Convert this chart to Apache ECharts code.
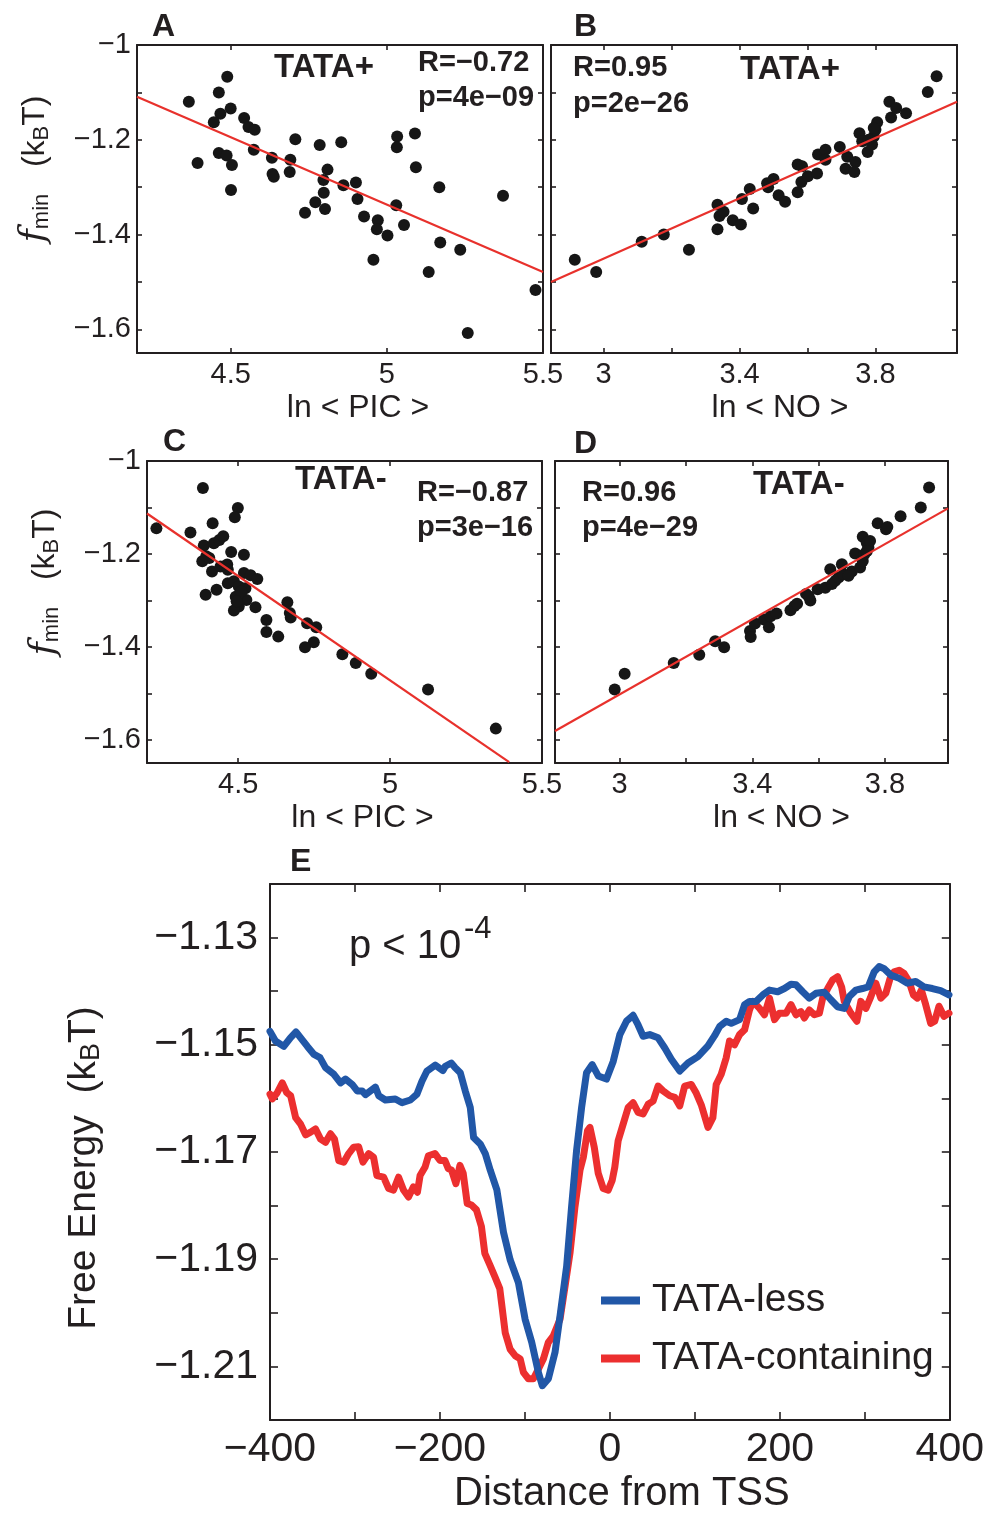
<!DOCTYPE html>
<html>
<head>
<meta charset="utf-8">
<script src="https://cdn.jsdelivr.net/npm/echarts@6/dist/echarts.min.js"></script>
<style>
  html, body { margin: 0; padding: 0; background: #ffffff; }
  #chart { width: 987px; height: 1515px; }
</style>
</head>
<body>
<div id="chart"></div>
<script>
// ---- Panel A: TATA+ promoters, f_min against ln<PIC>
const pointsA = [
  [4.366,-1.120],[4.489,-1.067],[4.462,-1.100],[4.500,-1.134],[4.467,-1.145],[4.446,-1.163],
  [4.394,-1.249],[4.462,-1.228],[4.487,-1.233],[4.504,-1.253],[4.501,-1.306],[4.543,-1.154],
  [4.557,-1.173],[4.577,-1.179],[4.574,-1.221],[4.632,-1.238],[4.634,-1.272],[4.638,-1.278],
  [4.691,-1.242],[4.689,-1.268],[4.707,-1.199],[4.785,-1.211],[4.854,-1.205],[4.810,-1.263],
  [4.797,-1.285],[4.798,-1.312],[4.771,-1.332],[4.738,-1.354],[4.802,-1.346],[4.861,-1.296],
  [4.901,-1.290],[4.906,-1.325],[4.927,-1.362],[4.971,-1.370],[4.968,-1.389],[5.002,-1.402],
  [4.957,-1.453],[5.033,-1.193],[5.032,-1.216],[5.090,-1.187],[5.093,-1.258],[5.030,-1.338],
  [5.055,-1.380],[5.168,-1.300],[5.171,-1.417],[5.235,-1.432],[5.134,-1.479],[5.259,-1.608],
  [5.372,-1.318],[5.476,-1.517]
];
const fitA = [[4.2,-1.109],[5.5,-1.479]];

// ---- Panel B: TATA+ promoters, f_min against ln<NO>
const pointsB = [
  [2.915,-1.453],[2.978,-1.479],[3.112,-1.415],[3.177,-1.400],[3.251,-1.432],[3.335,-1.337],
  [3.341,-1.361],[3.353,-1.352],[3.335,-1.389],[3.380,-1.370],[3.404,-1.379],[3.407,-1.325],
  [3.430,-1.304],[3.440,-1.345],[3.481,-1.292],[3.484,-1.300],[3.500,-1.283],[3.515,-1.317],
  [3.534,-1.331],[3.571,-1.252],[3.584,-1.256],[3.571,-1.311],[3.582,-1.289],[3.601,-1.277],
  [3.628,-1.271],[3.631,-1.231],[3.653,-1.221],[3.653,-1.242],[3.695,-1.215],[3.717,-1.236],
  [3.712,-1.261],[3.741,-1.247],[3.738,-1.268],[3.753,-1.186],[3.761,-1.203],[3.777,-1.226],
  [3.790,-1.210],[3.795,-1.193],[3.800,-1.179],[3.805,-1.163],[3.841,-1.120],[3.846,-1.153],
  [3.861,-1.133],[3.890,-1.144],[3.954,-1.099],[3.980,-1.066],[3.780,-1.200],[3.795,-1.175]
];
const fitB = [[2.845,-1.500],[4.04,-1.120]];

// ---- Panel C: TATA- promoters, f_min against ln<PIC>
const pointsC = [
  [4.231,-1.145],[4.384,-1.058],[4.343,-1.154],[4.416,-1.134],[4.499,-1.101],[4.489,-1.121],
  [4.387,-1.182],[4.420,-1.177],[4.438,-1.170],[4.451,-1.162],[4.382,-1.216],[4.395,-1.205],
  [4.405,-1.209],[4.414,-1.238],[4.442,-1.227],[4.464,-1.223],[4.466,-1.234],[4.477,-1.196],
  [4.519,-1.202],[4.393,-1.288],[4.429,-1.277],[4.466,-1.263],[4.486,-1.259],[4.502,-1.270],
  [4.519,-1.241],[4.541,-1.246],[4.563,-1.254],[4.524,-1.274],[4.492,-1.292],[4.527,-1.299],
  [4.502,-1.313],[4.486,-1.322],[4.557,-1.315],[4.593,-1.342],[4.593,-1.368],[4.632,-1.378],
  [4.662,-1.304],[4.670,-1.327],[4.673,-1.337],[4.727,-1.349],[4.757,-1.358],[4.749,-1.390],
  [4.720,-1.401],[4.843,-1.416],[4.887,-1.435],[4.938,-1.458],[5.125,-1.492],[5.348,-1.576],
  [4.510,-1.281],[4.495,-1.302]
];
const fitC = [[4.2,-1.113],[5.392,-1.648]];

// ---- Panel D: TATA- promoters, f_min against ln<NO>
const pointsD = [
  [2.985,-1.492],[3.015,-1.458],[3.163,-1.435],[3.240,-1.417],[3.288,-1.388],[3.315,-1.401],
  [3.393,-1.366],[3.395,-1.379],[3.408,-1.350],[3.435,-1.341],[3.450,-1.358],[3.455,-1.334],
  [3.473,-1.328],[3.515,-1.321],[3.527,-1.312],[3.535,-1.307],[3.562,-1.286],[3.575,-1.300],
  [3.570,-1.291],[3.597,-1.276],[3.620,-1.273],[3.635,-1.233],[3.640,-1.265],[3.650,-1.258],
  [3.660,-1.251],[3.670,-1.222],[3.675,-1.244],[3.700,-1.238],[3.710,-1.199],[3.725,-1.229],
  [3.733,-1.215],[3.737,-1.201],[3.733,-1.163],[3.745,-1.176],[3.750,-1.186],[3.755,-1.172],
  [3.778,-1.134],[3.803,-1.147],[3.807,-1.142],[3.847,-1.119],[3.908,-1.100],[3.933,-1.057],
  [3.690,-1.247],[3.745,-1.194]
];
const fitD = [[2.805,-1.581],[3.99,-1.102]];

// ---- Panel E: free-energy profiles around the TSS
const tataLess = [
  [-400,-1.1475],[-393.6,-1.1493],[-383.8,-1.1503],[-376,-1.1487],[-369.4,-1.1476],[-363.9,-1.1487],
  [-356,-1.1503],[-348.2,-1.1518],[-341.2,-1.1524],[-334.5,-1.1543],[-324.8,-1.1555],[-317,-1.1571],
  [-311.2,-1.1564],[-303.3,-1.1574],[-297.4,-1.1586],[-291.6,-1.1586],[-287.6,-1.1593],[-281.7,-1.1586],
  [-275.9,-1.1579],[-272,-1.1595],[-264.2,-1.1603],[-252.5,-1.1601],[-244.6,-1.1608],[-234.8,-1.1603],
  [-227,-1.1592],[-221.2,-1.1568],[-215.3,-1.1549],[-205.5,-1.1538],[-196.5,-1.1548],[-193.7,-1.1540],
  [-186.7,-1.1534],[-182,-1.1543],[-176.1,-1.1552],[-170.2,-1.1586],[-164.3,-1.1617],[-160.4,-1.1673],
  [-152.6,-1.1685],[-146.7,-1.1703],[-140.8,-1.1734],[-133.1,-1.1770],[-125.2,-1.1850],[-117.4,-1.1901],
  [-107.6,-1.1944],[-99.8,-1.2012],[-92,-1.2055],[-84.2,-1.2111],[-79.5,-1.2136],[-72.4,-1.2123],
  [-64.6,-1.2074],[-58.7,-1.2006],[-50.9,-1.1913],[-45.1,-1.1802],[-39.2,-1.1697],[-33.3,-1.1617],
  [-27.5,-1.1552],[-20.8,-1.1537],[-13.7,-1.1558],[-4,-1.1564],[3.9,-1.1531],[11.7,-1.1481],
  [19.5,-1.1456],[27.3,-1.1445],[33.2,-1.1463],[39.1,-1.1484],[46.9,-1.1481],[56.7,-1.1487],
  [64.6,-1.1506],[72.3,-1.1527],[82.2,-1.1549],[91.9,-1.1534],[103.6,-1.1522],[115.4,-1.1502],
  [123.2,-1.1483],[129.1,-1.1466],[136.9,-1.1456],[142.8,-1.1460],[152.6,-1.1453],[158.5,-1.1425],
  [164.3,-1.1419],[172.1,-1.1419],[179.9,-1.1407],[187.8,-1.1398],[197.5,-1.1401],[205.4,-1.1395],
  [213.1,-1.1387],[219,-1.1388],[226.9,-1.1401],[234.7,-1.1413],[242.5,-1.1404],[252.3,-1.1402],
  [260.1,-1.1416],[268,-1.1429],[275.8,-1.1432],[281.7,-1.1410],[289.5,-1.1398],[297.3,-1.1395],
  [304,-1.1392],[311,-1.1364],[316.9,-1.1354],[322.8,-1.1358],[330.5,-1.1370],[340.4,-1.1376],
  [350.1,-1.1385],[359.9,-1.1382],[369.7,-1.1392],[379.5,-1.1395],[389.2,-1.1399],[399,-1.1407]
];
const tataContaining = [
  [-400,-1.1592],[-397.2,-1.1601],[-391.4,-1.1589],[-385.5,-1.1571],[-380.4,-1.1589],[-375.7,-1.1595],
  [-369.8,-1.1636],[-364,-1.1648],[-358.1,-1.1668],[-352.2,-1.1663],[-346.4,-1.1657],[-340.5,-1.1676],
  [-334.6,-1.1682],[-328.8,-1.1666],[-324.1,-1.1676],[-319.1,-1.1716],[-313.2,-1.1719],[-307.4,-1.1703],
  [-301.5,-1.1691],[-295.7,-1.1690],[-290.6,-1.1719],[-283.9,-1.1703],[-278.1,-1.1710],[-274.2,-1.1744],
  [-266.3,-1.1747],[-260.5,-1.1768],[-254.6,-1.1771],[-248.7,-1.1747],[-242.9,-1.1771],[-237,-1.1784],
  [-231.2,-1.1765],[-226.5,-1.1775],[-223.4,-1.1744],[-217.5,-1.1728],[-213.6,-1.1707],[-205.8,-1.1703],
  [-199.9,-1.1716],[-194.1,-1.1716],[-190.2,-1.1731],[-186.3,-1.1734],[-181.2,-1.1759],[-176.5,-1.1725],
  [-172.6,-1.1740],[-167.9,-1.1796],[-162.9,-1.1799],[-157,-1.1808],[-151.2,-1.1839],[-147.2,-1.1889],
  [-141.4,-1.1910],[-135.5,-1.1932],[-129.6,-1.1955],[-123.2,-1.2037],[-117.4,-1.2068],[-111.5,-1.2080],
  [-105.6,-1.2086],[-101.8,-1.2111],[-95.9,-1.2123],[-90,-1.2123],[-84.2,-1.2105],[-78.3,-1.2086],
  [-72.4,-1.2055],[-66.6,-1.2043],[-58.7,-1.2012],[-52.8,-1.1951],[-47,-1.1889],[-41.1,-1.1802],
  [-35.2,-1.1734],[-31.3,-1.1710],[-26.3,-1.1660],[-23.5,-1.1654],[-18.4,-1.1691],[-13.7,-1.1740],
  [-7.9,-1.1768],[-2,-1.1771],[2.7,-1.1753],[5.8,-1.1728],[9.7,-1.1679],[15.6,-1.1648],
  [21.5,-1.1617],[27.3,-1.1608],[33.2,-1.1626],[39.1,-1.1629],[45,-1.1611],[50.8,-1.1605],
  [56.7,-1.1577],[62.6,-1.1586],[70.4,-1.1595],[76.3,-1.1598],[82.2,-1.1614],[88,-1.1577],
  [95.8,-1.1574],[101.6,-1.1590],[107.5,-1.1612],[115.4,-1.1654],[121.2,-1.1636],[125.1,-1.1574],
  [131,-1.1555],[136.9,-1.1524],[140.8,-1.1493],[146.7,-1.1500],[152.6,-1.1481],[158.5,-1.1472],
  [164.3,-1.1435],[168.2,-1.1419],[176.1,-1.1432],[181.9,-1.1444],[187.8,-1.1413],[193.7,-1.1453],
  [199.5,-1.1441],[207.3,-1.1441],[213.1,-1.1425],[219,-1.1444],[224.9,-1.1438],[228.9,-1.1450],
  [234.7,-1.1435],[240.6,-1.1444],[246.5,-1.1441],[250.4,-1.1413],[256.3,-1.1395],[262.1,-1.1379],
  [268,-1.1373],[272.7,-1.1392],[275.8,-1.1419],[283.6,-1.1441],[290.6,-1.1456],[295.3,-1.1419],
  [301.3,-1.1432],[306.4,-1.1413],[312.9,-1.1385],[318.8,-1.1413],[324.7,-1.1404],[329.8,-1.1376],
  [334.5,-1.1364],[340.4,-1.1361],[346.3,-1.1367],[352.1,-1.1382],[357.2,-1.1407],[361.9,-1.1413],
  [366.6,-1.1398],[371.6,-1.1425],[377.5,-1.1460],[382.2,-1.1456],[387.3,-1.1428],[393.2,-1.1447],
  [399,-1.1441]
];

// ---- Tick positions and labelled ticks
const fminTicks  = [-1.6, -1.5, -1.4, -1.3, -1.2, -1.1, -1];
const fminLabels = [-1.6, -1.4, -1.2, -1];
const picTicks   = [4.5, 5, 5.5];
const picLabels  = [4.5, 5, 5.5];
const noTicks    = [3, 3.2, 3.4, 3.6, 3.8];
const noLabels   = [3, 3.4, 3.8];
const tssTicks   = [-400, -300, -200, -100, 0, 100, 200, 300, 400];
const tssLabels  = [-400, -200, 0, 200, 400];
const energyTicks  = [-1.21, -1.2, -1.19, -1.18, -1.17, -1.16, -1.15, -1.14, -1.13];
const energyLabels = [-1.21, -1.19, -1.17, -1.15, -1.13];

const FONT = '"Liberation Sans", Arial, Helvetica, sans-serif';
const INK = '#231f20';
const DOT = '#161616';
const FIT_RED = '#e8312c';
const LINE_BLUE = '#2157a7';
const LINE_RED = '#ec2f2f';

const minus = s => s.replace('-', '\u2212');
const fmtPlain = v => minus(String(+(+v).toFixed(4)));
const fmt2 = v => minus((+v).toFixed(2));

// Panel frames: every grid gets a bottom/top x axis and a left/right y axis,
// ticks drawn inward on all four sides.
const grids = [];
const xAxes = [];
const yAxes = [];

function addPanel(box, xr, yr, x, y) {
  const g = grids.length;
  grids.push({ left: box[0], top: box[1], width: box[2], height: box[3], containLabel: false });
  const line = { show: true, onZero: false, lineStyle: { color: INK, width: 2 } };
  const tick = (vals, len) => ({ show: true, inside: true, length: len, customValues: vals,
                                 lineStyle: { color: INK, width: 1.6 } });
  xAxes.push({
    gridIndex: g, type: 'value', position: 'bottom', min: xr[0], max: xr[1],
    axisLine: line, axisTick: tick(x.ticks, x.tickLen), splitLine: { show: false },
    axisLabel: { customValues: x.labels, formatter: x.fmt, fontFamily: FONT, fontSize: x.fontSize,
                 color: INK, margin: x.margin, showMinLabel: true, showMaxLabel: true, hideOverlap: false },
    name: x.name, nameLocation: 'middle', nameGap: x.nameGap,
    nameTextStyle: { fontFamily: FONT, fontSize: x.nameSize, color: INK, padding: x.namePad || 0 }
  });
  xAxes.push({
    gridIndex: g, type: 'value', position: 'top', min: xr[0], max: xr[1],
    axisLine: line, axisTick: tick(x.ticks, x.tickLen), axisLabel: { show: false }, splitLine: { show: false }
  });
  yAxes.push({
    gridIndex: g, type: 'value', position: 'left', min: yr[0], max: yr[1],
    axisLine: line, axisTick: tick(y.ticks, y.tickLen), splitLine: { show: false },
    axisLabel: { show: y.showLabels, customValues: y.labels, formatter: y.fmt, fontFamily: FONT,
                 fontSize: y.fontSize, color: INK, margin: y.margin, showMinLabel: true,
                 showMaxLabel: true, hideOverlap: false },
    name: y.name || '', nameLocation: 'middle', nameGap: y.nameGap || 0, nameRotate: 90,
    nameTextStyle: y.nameStyle || {}
  });
  yAxes.push({
    gridIndex: g, type: 'value', position: 'right', min: yr[0], max: yr[1],
    axisLine: line, axisTick: tick(y.ticks, y.tickLen), axisLabel: { show: false }, splitLine: { show: false }
  });
  return g;
}

const fminName = {
  fontFamily: FONT, fontSize: 32, color: INK, padding: [0, 0, 0, 60],
  rich: {
    f: { fontFamily: '"DejaVu Serif", serif', fontStyle: 'italic', fontSize: 36, color: INK },
    s: { fontFamily: FONT, fontSize: 22, color: INK, verticalAlign: 'bottom', padding: [12, 0, 0, 0] },
    n: { fontFamily: FONT, fontSize: 32, color: INK }
  }
};
const fminLabel = '{f|f}{s|min}{n|   (k}{s|B}{n|T)}';

const topX = (ticks, labels, name, pad) => ({ ticks, labels, tickLen: 5, fmt: fmtPlain, fontSize: 29,
  margin: 7, name, nameGap: 39, nameSize: 32, namePad: [0, 0, 0, pad] });
const topY = (show, withName) => ({ ticks: fminTicks, labels: fminLabels, tickLen: 5, fmt: fmtPlain,
  fontSize: 29, margin: 6, showLabels: show,
  name: withName ? fminLabel : '', nameGap: 84, nameStyle: fminName });

const gA = addPanel([137, 45, 406, 308], [4.2, 5.5], [-1.65, -1.0],
  topX(picTicks, picLabels, 'ln < PIC >', 36), topY(true, true));
const gB = addPanel([551, 45, 406, 308], [2.845, 4.04], [-1.65, -1.0],
  topX(noTicks, noLabels, 'ln < NO >', 52), topY(false, false));
const gC = addPanel([147, 461, 395, 302], [4.2, 5.5], [-1.65, -1.0],
  topX(picTicks, picLabels, 'ln < PIC >', 36), topY(true, true));
const gD = addPanel([555, 461, 393, 302], [2.805, 3.99], [-1.65, -1.0],
  topX(noTicks, noLabels, 'ln < NO >', 60), topY(false, false));
const gE = addPanel([270, 884, 683, 537], [-400, 400], [-1.22, -1.12],
  { ticks: tssTicks, labels: tssLabels, tickLen: 8, fmt: fmtPlain, fontSize: 41, margin: 9,
    name: 'Distance from TSS', nameGap: 54, nameSize: 40, namePad: [0, 0, 0, 24] },
  { ticks: energyTicks, labels: energyLabels, tickLen: 8, fmt: fmt2, fontSize: 41, margin: 12,
    showLabels: true, name: 'Free Energy  (k{s|B}T)', nameGap: 165,
    nameStyle: { fontFamily: FONT, fontSize: 39, color: INK, padding: [0, 32, 0, 0],
      rich: { s: { fontFamily: FONT, fontSize: 27, color: INK, verticalAlign: 'bottom', padding: [14, 0, 0, 0] } } } });

function scatter(g, data) {
  return { type: 'scatter', xAxisIndex: 2 * g, yAxisIndex: 2 * g, data, symbol: 'circle',
           symbolSize: 12, itemStyle: { color: DOT, opacity: 1 }, z: 2, silent: true };
}
function fit(g, data) {
  return { type: 'line', xAxisIndex: 2 * g, yAxisIndex: 2 * g, data, showSymbol: false,
           lineStyle: { color: FIT_RED, width: 2.2 }, z: 3, silent: true, clip: true };
}
function profile(g, name, data, color) {
  return { type: 'line', name, xAxisIndex: 2 * g, yAxisIndex: 2 * g, data, showSymbol: false,
           symbol: 'none', lineStyle: { color, width: 7, join: 'round', cap: 'round' },
           itemStyle: { color }, z: 3, silent: true, clip: true };
}

// Bold in-panel annotations and panel letters
const bold = (text, x, y, size) => ({ type: 'text', x, y, silent: true,
  style: { text, font: 'bold ' + size + 'px ' + FONT, fill: INK, align: 'left', verticalAlign: 'middle' } });
const plain = (text, x, y, size) => ({ type: 'text', x, y, silent: true,
  style: { text, font: size + 'px ' + FONT, fill: INK, align: 'left', verticalAlign: 'middle' } });

const graphics = [
  bold('A', 152, 27, 32), bold('B', 574, 27, 32), bold('C', 163, 442, 32),
  bold('D', 574, 444, 32), bold('E', 290, 862, 32),
  bold('TATA+', 274, 68, 33), bold('R=\u22120.72', 418, 63, 29), bold('p=4e\u221209', 418, 98, 29),
  bold('R=0.95', 573, 68, 29), bold('p=2e\u221226', 573, 104, 29), bold('TATA+', 740, 70, 33),
  bold('TATA-', 295, 480, 33), bold('R=\u22120.87', 417, 493, 29), bold('p=3e\u221216', 417, 528, 29),
  bold('R=0.96', 582, 493, 29), bold('p=4e\u221229', 582, 528, 29), bold('TATA-', 753, 485, 33),
  plain('p < 10', 349, 947, 40), plain('-4', 464, 929, 31)
];

const option = {
  animation: false,
  backgroundColor: '#ffffff',
  grid: grids,
  xAxis: xAxes,
  yAxis: yAxes,
  legend: {
    data: ['TATA-less', 'TATA-containing'], orient: 'vertical', left: 601, top: 1281, padding: 0,
    itemWidth: 39, itemHeight: 8, itemGap: 19, icon: 'rect', selectedMode: false,
    textStyle: { fontFamily: FONT, fontSize: 39, color: INK, padding: [0, 0, 0, 7] }
  },
  graphic: graphics,
  series: [
    scatter(gA, pointsA), fit(gA, fitA),
    scatter(gB, pointsB), fit(gB, fitB),
    scatter(gC, pointsC), fit(gC, fitC),
    scatter(gD, pointsD), fit(gD, fitD),
    profile(gE, 'TATA-containing', tataContaining, LINE_RED),
    profile(gE, 'TATA-less', tataLess, LINE_BLUE)
  ]
};

const chart = echarts.init(document.getElementById('chart'), null, { renderer: 'canvas' });
chart.setOption(option);
</script>
</body>
</html>
